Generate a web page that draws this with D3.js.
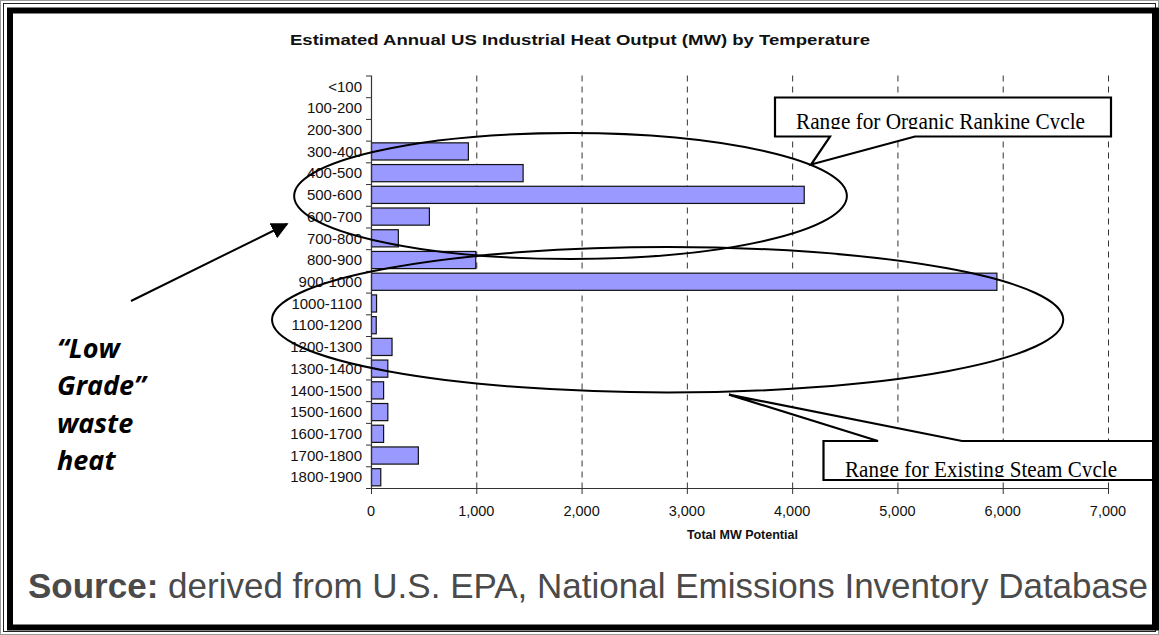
<!DOCTYPE html>
<html>
<head>
<meta charset="utf-8">
<script src="https://cdn.jsdelivr.net/npm/d3@7"></script>
<style>
  html, body { margin: 0; padding: 0; background: #fff; }
  svg { display: block; }
</style>
</head>
<body>
<svg id="chart" width="1159" height="635"></svg>
<script>
// ---- data ----
const categories = ["<100","100-200","200-300","300-400","400-500","500-600","600-700","700-800","800-900","900-1000",
  "1000-1100","1100-1200","1200-1300","1300-1400","1400-1500","1500-1600","1600-1700","1700-1800","1800-1900"];
const values = [0,0,0,920,1440,4110,550,255,990,5940,48,45,195,155,115,155,115,445,88];
const xTicks = [0,1000,2000,3000,4000,5000,6000,7000];
const titleText = "Estimated Annual US Industrial Heat Output (MW) by Temperature";
const xAxisTitle = "Total MW Potential";
const callout1Text = "Range for Organic Rankine Cycle";
const callout2Text = "Range for Existing Steam Cycle";
const sideLines = ["\u201CLow", "Grade\u201D", "waste", "heat"];
const sourceBold = "Source:";
const sourceRest = " derived from U.S. EPA, National Emissions Inventory Database";

const svg = d3.select("#chart");
const W = 1159, H = 635;

// ---- frame ----
svg.append("rect").attr("x",0.5).attr("y",0.5).attr("width",W-1).attr("height",H-1)
  .attr("fill","#fff").attr("stroke","#999").attr("stroke-width",1);
svg.append("rect").attr("x",3.5).attr("y",3.5).attr("width",W-7).attr("height",H-7)
  .attr("fill","none").attr("stroke","#222").attr("stroke-width",1);
svg.append("rect").attr("x",10).attr("y",10.5).attr("width",W-13.5).attr("height",H-18)
  .attr("fill","none").attr("stroke","#000").attr("stroke-width",6);

// ---- scales ----
const plot = {left: 371, right: 1108, top: 75.5, bottom: 488};
const x = d3.scaleLinear().domain([0,7000]).range([plot.left, plot.right]);
const y = d3.scaleBand().domain(categories).range([plot.top, plot.bottom]).paddingInner(0.21).paddingOuter(0.1);
const bandPos = i => plot.top + i * (plot.bottom - plot.top) / categories.length; // band-units -> px

const g = svg.append("g");

// gridlines
g.append("g").selectAll("line").data(xTicks.slice(1)).join("line")
  .attr("x1", d => x(d)+0.5).attr("x2", d => x(d)+0.5)
  .attr("y1", plot.top).attr("y2", plot.bottom)
  .attr("stroke","#333").attr("stroke-width",1).attr("stroke-dasharray","6,5");

// bars
const barData = values.map((v,i)=>({c:categories[i], v})).filter(d=>d.v>0);
g.append("g").selectAll("rect").data(barData).join("rect")
  .attr("x", x(0)+0.5).attr("y", d => y(d.c))
  .attr("width", d => x(d.v) - x(0)).attr("height", y.bandwidth())
  .attr("fill","#9999ff").attr("stroke","#111").attr("stroke-width",1.2);

// y axis
const yAxisG = g.append("g");
yAxisG.append("line").attr("x1",plot.left+0.5).attr("x2",plot.left+0.5)
  .attr("y1",plot.top).attr("y2",plot.bottom).attr("stroke","#333").attr("stroke-width",1.2);
yAxisG.selectAll("line.tk").data(d3.range(categories.length+1)).join("line").attr("class","tk")
  .attr("x1",plot.left-5).attr("x2",plot.left)
  .attr("y1",i=>bandPos(i)+0.5).attr("y2",i=>bandPos(i)+0.5)
  .attr("stroke","#333");
yAxisG.selectAll("text").data(categories).join("text")
  .attr("x", plot.left-9).attr("y", d => y(d) + y.bandwidth()/2)
  .attr("dy","0.35em").attr("text-anchor","end")
  .attr("font-family","Liberation Sans, Arial, sans-serif").attr("font-size",15).attr("fill","#111")
  .text(d=>d);

// x axis
const xAxisG = g.append("g");
xAxisG.append("line").attr("x1",plot.left).attr("x2",plot.right)
  .attr("y1",plot.bottom+0.5).attr("y2",plot.bottom+0.5).attr("stroke","#333").attr("stroke-width",1.2);
xAxisG.selectAll("line.tk").data(xTicks).join("line").attr("class","tk")
  .attr("x1",d=>x(d)+0.5).attr("x2",d=>x(d)+0.5)
  .attr("y1",plot.bottom).attr("y2",plot.bottom+6).attr("stroke","#333");
xAxisG.selectAll("text").data(xTicks).join("text")
  .attr("x",d=>x(d)).attr("y",plot.bottom+28).attr("text-anchor","middle")
  .attr("font-family","Liberation Sans Narrow, Liberation Sans, Arial, sans-serif").attr("font-size",14.5).attr("fill","#111")
  .text(d3.format(","));
svg.append("text").attr("x",(plot.left+plot.right)/2+3).attr("y",plot.bottom+51).attr("text-anchor","middle")
  .attr("font-family","Liberation Sans, Arial, sans-serif").attr("font-weight","bold").attr("font-size",12.5).attr("fill","#111")
  .text(xAxisTitle);

// title
svg.append("text").attr("x",580).attr("y",45).attr("text-anchor","middle")
  .attr("font-family","Liberation Sans, Arial, sans-serif").attr("font-weight","bold").attr("font-size",15).attr("fill","#111")
  .attr("textLength",580).attr("lengthAdjust","spacingAndGlyphs")
  .text(titleText);

// ---- annotations (positions in data / band units) ----
const ell1 = {x0:-730, x1:4520, cy:5.55, ry:2.9};
const ell2 = {x0:-940, x1:6575, cy:11.25, ry:3.35};
const step = (plot.bottom-plot.top)/categories.length;
[ell1, ell2].forEach(e => {
  svg.append("ellipse")
    .attr("cx",(x(e.x0)+x(e.x1))/2).attr("cy",bandPos(e.cy))
    .attr("rx",(x(e.x1)-x(e.x0))/2).attr("ry",e.ry*step)
    .attr("fill","none").attr("stroke","#000").attr("stroke-width",2);
});

const defs = svg.append("defs");

// callout 1
const c1 = {l:775, t:97.5, r:1111, b:136.5, b1:830, b2:915, tipX:x(4180), tipY:bandPos(4.1)};
svg.append("path")
  .attr("d",`M${c1.l},${c1.t}H${c1.r}V${c1.b}H${c1.b2}L${c1.tipX},${c1.tipY}L${c1.b1},${c1.b}H${c1.l}Z`)
  .attr("fill","#fff").attr("stroke","#000").attr("stroke-width",2.2).attr("stroke-linejoin","miter");
defs.append("clipPath").attr("id","clip1").append("rect").attr("x",c1.l).attr("y",c1.t).attr("width",c1.r-c1.l).attr("height",31.5);
svg.append("g").attr("clip-path","url(#clip1)").append("text")
  .attr("transform",`translate(796,128.5) scale(1,1.13)`)
  .attr("font-family","Liberation Serif, Times New Roman, serif").attr("font-size",21).attr("fill","#000")
  .attr("textLength",289).attr("lengthAdjust","spacingAndGlyphs")
  .text(callout1Text);

// callout 2
const c2 = {l:823.5, t:441, r:1165, b:480, b1:878, b2:962, tipX:x(3400), tipY:bandPos(14.7)};
svg.append("path")
  .attr("d",`M${c2.l},${c2.t}H${c2.b1}L${c2.tipX},${c2.tipY}L${c2.b2},${c2.t}H${c2.r}V${c2.b}H${c2.l}Z`)
  .attr("fill","#fff").attr("stroke","#000").attr("stroke-width",2.2);
defs.append("clipPath").attr("id","clip2").append("rect").attr("x",c2.l).attr("y",c2.t).attr("width",400).attr("height",36);
svg.append("g").attr("clip-path","url(#clip2)").append("text")
  .attr("transform",`translate(845,476.5) scale(1,1.13)`)
  .attr("font-family","Liberation Serif, Times New Roman, serif").attr("font-size",21).attr("fill","#000")
  .attr("textLength",272).attr("lengthAdjust","spacingAndGlyphs")
  .text(callout2Text);

// redraw right frame edge over callout 2
svg.append("line").attr("x1",W-3.5).attr("x2",W-3.5).attr("y1",8).attr("y2",H-5)
  .attr("stroke","#000").attr("stroke-width",7);

// arrow
defs.append("marker").attr("id","ah").attr("viewBox","0 0 10 10")
  .attr("refX",9).attr("refY",5).attr("markerWidth",17).attr("markerHeight",17)
  .attr("markerUnits","userSpaceOnUse").attr("orient","auto")
  .append("path").attr("d","M0,0L10,5L0,10Z").attr("fill","#000");
svg.append("line").attr("x1",131).attr("y1",301).attr("x2",287).attr("y2",224)
  .attr("stroke","#000").attr("stroke-width",2).attr("marker-end","url(#ah)");

// side text
svg.append("g").selectAll("text").data(sideLines).join("text")
  .attr("x",57).attr("y",(d,i)=>358 + i*37.3)
  .attr("font-family","Open Sans, Lato, sans-serif").attr("font-weight","bold").attr("font-style","italic")
  .attr("font-size",27).attr("fill","#000")
  .text(d=>d);

// source
const src = svg.append("text").attr("x",28).attr("y",598)
  .attr("font-family","Liberation Sans, Arial, sans-serif").attr("font-size",35).attr("fill","#4a4a4a")
  .attr("textLength",1120).attr("lengthAdjust","spacingAndGlyphs");
src.append("tspan").attr("font-weight","bold").text(sourceBold);
src.append("tspan").text(sourceRest);
</script>
</body>
</html>
